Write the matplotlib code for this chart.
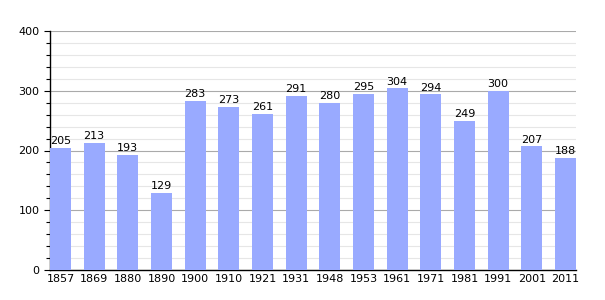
import numpy as np
import matplotlib.pyplot as plt
from matplotlib.ticker import MultipleLocator

years = ['1857', '1869', '1880', '1890', '1900', '1910', '1921', '1931',
         '1948', '1953', '1961', '1971', '1981', '1991', '2001', '2011']
population = [205, 213, 193, 129, 283, 273, 261, 291, 280, 295, 304, 294,
              249, 300, 207, 188]

bar_color = '#99aaff'
width = 0.625

fig = plt.figure(figsize=(6.05, 3.0), dpi=100)
ax = fig.add_axes([50 / 605, 30 / 300, 526 / 605, 239 / 300])

x = np.arange(len(years))
ax.bar(x, population, width=width, color=bar_color, zorder=3)

for xi, v in zip(x, population):
    ax.text(xi, v + 3, str(v), ha='center', va='bottom', fontsize=8, color='black', zorder=4)

ax.set_xlim(-width / 2, len(years) - 1 + width / 2)
ax.set_ylim(0, 400)
ax.set_xticks(x)
ax.set_xticklabels(years, fontsize=8)
ax.yaxis.set_major_locator(MultipleLocator(100))
ax.yaxis.set_minor_locator(MultipleLocator(20))
ax.tick_params(axis='y', which='major', labelsize=8, length=4, width=0.8, direction='out')
ax.tick_params(axis='y', which='minor', length=3, width=0.8, direction='out')
ax.tick_params(axis='x', length=0, pad=3)

ax.grid(axis='y', which='major', color='#aaaaaa', linewidth=0.8, zorder=0)
ax.grid(axis='y', which='minor', color='#e6e6e6', linewidth=0.8, zorder=0)

ax.spines['top'].set_visible(False)
ax.spines['right'].set_visible(False)
ax.spines['left'].set_linewidth(1.0)
ax.spines['bottom'].set_linewidth(1.0)

fig.savefig('out.png', dpi=100)
